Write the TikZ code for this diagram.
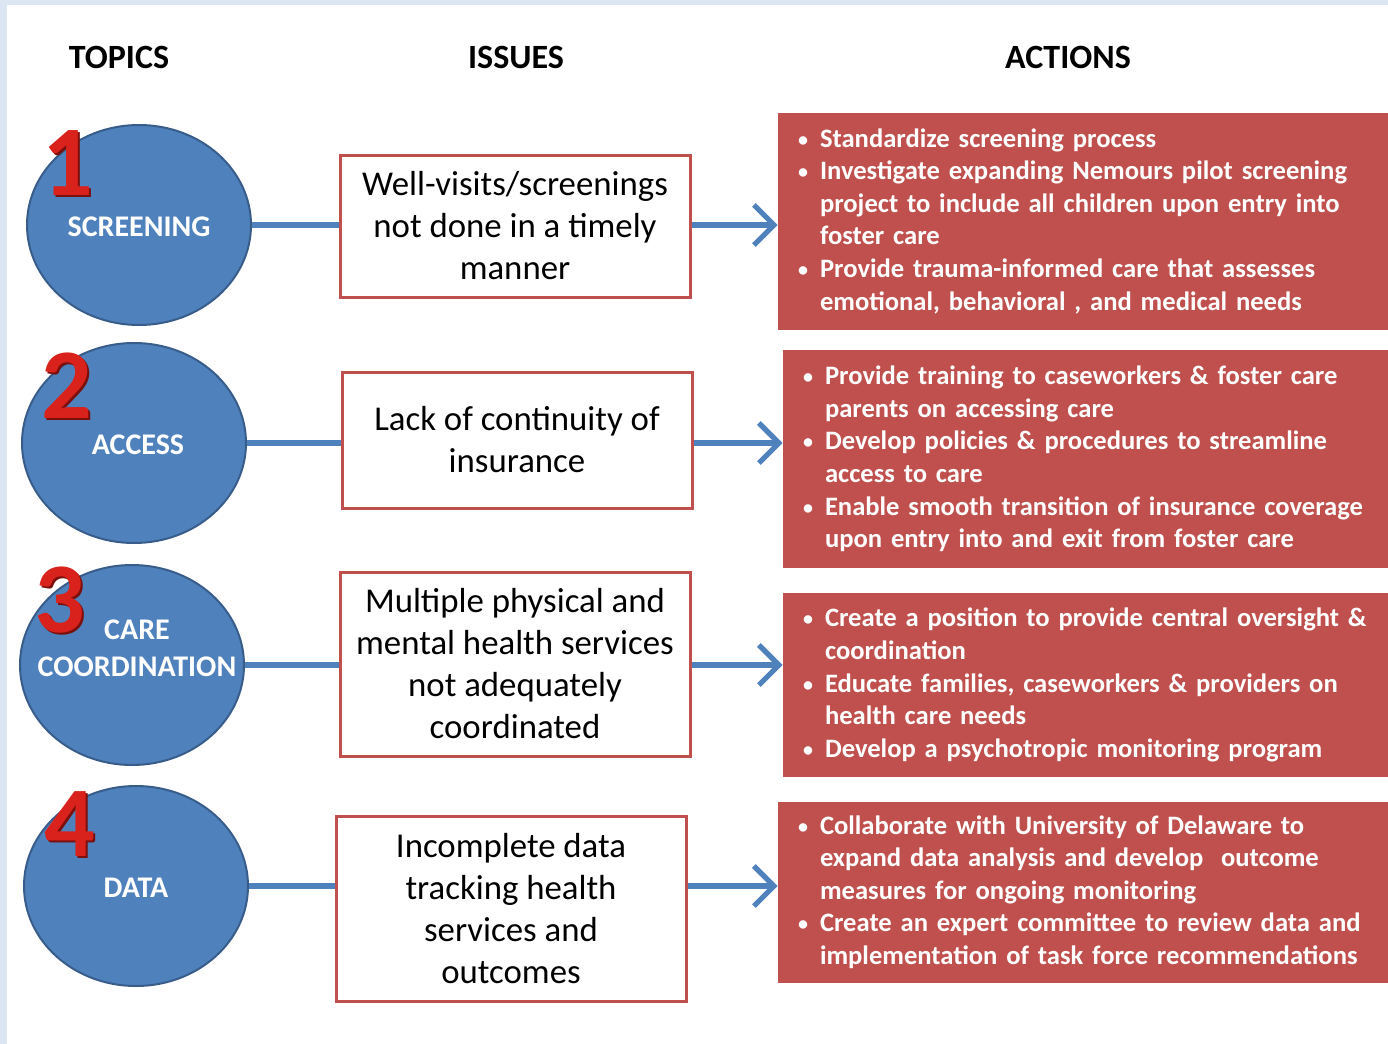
\documentclass[tikz,border=0pt]{standalone}
\usepackage{fontspec}
\setmainfont{Carlito}
\usetikzlibrary{shapes.geometric,arrows.meta}
\definecolor{topicblue}{HTML}{4F81BD}
\definecolor{topicedge}{HTML}{385D8A}
\definecolor{actionred}{HTML}{C0504D}
\definecolor{numred}{HTML}{D9221C}
\definecolor{numdark}{HTML}{7A0F0C}
\definecolor{framebg}{HTML}{DCE6F2}
\newcommand{\bul}{\makebox[11pt][l]{\raisebox{0.5pt}{\scalebox{0.75}{\textbullet}}}}
\newcommand{\ind}{\hspace*{11pt}}
\newcommand{\link}[3]{\draw[conn] (#1.east) -- (#1.east -| #2.west);
  \draw[arr] (#2.east |- #1.east) -- (#1.east -| #3.west);}

\begin{document}
\begin{tikzpicture}[x=0.5pt,y=-0.5pt,
  head/.style={font=\fontsize{17}{20}\selectfont\bfseries},
  topic/.style={ellipse,draw=topicedge,line width=1pt,fill=topicblue,minimum width=112pt,minimum height=100pt,inner sep=0pt},
  topictext/.style={text=white,font=\fontsize{15}{18.5}\selectfont\bfseries,align=center},
  num/.style={text=numred,font=\fontsize{50}{50}\selectfont\bfseries},
  numshadow/.style={text=numdark,font=\fontsize{50}{50}\selectfont\bfseries},
  issue/.style={draw=actionred,line width=1.5pt,fill=white,minimum width=175pt,align=center,font=\fontsize{17.4}{21}\selectfont},
  action/.style={fill=actionred,text=white,text width=285pt,inner xsep=10pt,align=left,font=\fontsize{13.3}{16.3}\selectfont\bfseries},
  conn/.style={topicblue,line width=2.6pt},
  arr/.style={conn,-{Straight Barb[length=10pt,width=20pt]}}]
			\useasboundingbox (0,0) rectangle (1388,1044);
			\fill[framebg] (0,0) rectangle (1388,1044);
			\fill[white] (7,5) rectangle (1388,1044);
			
			\node[head](h1) at (119,57) {TOPICS};
			\node[head](h2) at (516,57) {ISSUES};
			\node[head](h3) at (1068,57) {ACTIONS};
			
			\node[topic](t1) at (139,225) {};
			\node[topic](t2) at (134,443) {};
			\node[topic](t3) at (132,665) {};
			\node[topic](t4) at (136,886) {};
			\node[topictext](tt1) at (139,227) {SCREENING};
			\node[topictext](tt2) at (138,445) {ACCESS};
			\node[topictext](tt3) at (137,648) {CARE\\COORDINATION};
			\node[topictext](tt4) at (136,888) {DATA};
			
			\node[numshadow](n1s) at (70,165) {1};
			\node[num](n1) at (68,163) {1};
			\node[numshadow](n2s) at (69,388) {2};
			\node[num](n2) at (67,386) {2};
			\node[numshadow](n3s) at (62,602) {3};
			\node[num](n3) at (60,600) {3};
			\node[numshadow](n4s) at (72,826) {4};
			\node[num](n4) at (70,824) {4};
			
			\node[issue,minimum height=71pt](i1) at (515,226) {Well-visits/screenings\\not done in a timely\\manner};
			\node[issue,minimum height=68pt](i2) at (517,440) {Lack of continuity of\\insurance};
			\node[issue,minimum height=92pt](i3) at (515,664) {Multiple physical and\\mental health services\\not adequately\\coordinated};
			\node[issue,minimum height=92.5pt](i4) at (511,909) {Incomplete data\\tracking health\\services and\\outcomes};
			
			\node[action,minimum height=108.5pt](a1) at (1083,221) {\bul Standardize screening process\\
				\bul Investigate expanding Nemours pilot screening\\
				\ind project to include all children upon entry into\\
				\ind foster care\\
				\bul Provide trauma-informed care that assesses\\
				\ind emotional, behavioral , and medical needs};
			\node[action,minimum height=109pt](a2) at (1088,459) {\bul Provide training to caseworkers \& foster care\\
				\ind parents on accessing care\\
				\bul Develop policies \& procedures to streamline\\
				\ind access to care\\
				\bul Enable smooth transition of insurance coverage\\
				\ind upon entry into and exit from foster care};
			\node[action,minimum height=92pt](a3) at (1088,685) {\bul Create a position to provide central oversight \&\\
				\ind coordination\\
				\bul Educate families, caseworkers \& providers on\\
				\ind health care needs\\
				\bul Develop a psychotropic monitoring program};
			\node[action,minimum height=90.5pt](a4) at (1083,892) {\bul Collaborate with University of Delaware to\\
				\ind expand data analysis and develop\ \ outcome\\
				\ind measures for ongoing monitoring\\
				\bul Create an expert committee to review data and\\
				\ind implementation of task force recommendations};
			
			\link{t1}{i1}{a1}
			\link{t2}{i2}{a2}
			\link{t3}{i3}{a3}
			\link{t4}{i4}{a4}
		\end{tikzpicture}
\end{document}
